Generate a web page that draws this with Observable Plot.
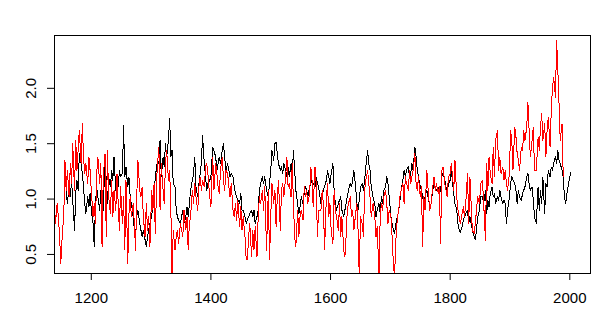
<!DOCTYPE html>
<html>
<head>
<meta charset="utf-8">
<script src="https://cdn.jsdelivr.net/npm/d3@7"></script>
<script src="https://cdn.jsdelivr.net/npm/@observablehq/plot@0.6"></script>
<style>
  html, body { margin: 0; padding: 0; background: #ffffff; }
  #chart { width: 611px; height: 327px; }
</style>
</head>
<body>
<div id="chart"></div>
<script>
// Years (x)
const years = [
1138,1140,1143,1145,1147,1149,1152,1154,1156,1158,1160,1163,1165,1167,1169,1172,1174,1176,1178,1180,1183,1185,1187,1189,1191,1194,1196,1198,1200,1203,1205,1207,1209,1211,1214,1216,1218,1220,
1223,1225,1227,1229,1232,1234,1236,1238,1241,1243,1245,1247,1249,1252,1254,1256,1258,1261,1263,1265,1267,1270,1272,1274,1276,1278,1281,1283,1285,1287,1290,1292,1294,1296,1298,1301,1303,1305,1307,1310,
1313,1315,1317,1320,1322,1324,1326,1329,1331,1333,1335,1337,1340,1342,1344,1346,1349,1351,1353,1355,1358,1360,1362,1364,1366,1369,1371,1373,1375,1378,1380,1382,1384,1386,1389,1391,1393,1395,1398,1400,
1403,1405,1408,1410,1412,1414,1416,1419,1421,1423,1425,1428,1430,1432,1434,1437,1439,1441,1443,1445,1448,1450,1452,1454,1457,1459,1461,1463,1465,1468,1470,1472,1474,1477,1479,1481,1483,1486,1488,1490,
1493,1496,1498,1500,1502,1505,1507,1509,1511,1513,1516,1518,1520,1522,1525,1527,1529,1531,1534,1536,1538,1540,1542,1545,1547,1549,1551,1554,1556,1558,1560,1562,1565,1567,1569,1571,1574,1576,1578,1580,
1584,1586,1588,1590,1593,1595,1597,1599,1601,1604,1606,1608,1610,1613,1615,1617,1619,1622,1624,1626,1628,1630,1633,1635,1637,1639,1642,1644,1646,1648,1650,1653,1655,1657,1659,1662,1664,1666,1668,1671,
1674,1676,1678,1681,1683,1685,1687,1689,1692,1694,1696,1698,1701,1703,1705,1707,1710,1712,1714,1716,1718,1721,1723,1725,1727,1730,1732,1734,1736,1738,1741,1743,1745,1747,1750,1752,1754,1756,1758,1761,
1764,1766,1768,1771,1773,1775,1777,1780,1782,1784,1786,1788,1791,1793,1795,1797,1800,1802,1804,1806,1808,1811,1813,1815,1817,1820,1822,1824,1826,1829,1831,1833,1835,1837,1840,1842,1844,1846,1849,1851,
1854,1856,1859,1861,1863,1865,1867,1870,1872,1874,1876,1879,1881,1883,1885,1888,1890,1892,1894,1896,1899,1901,1903,1905,1908,1910,1912,1914,1916,1919,1921,1923,1925,1928,1930,1932,1934,1937,1939,1941,
1944,1947,1949,1951,1953,1955,1958,1960,1962,1964,1967,1969,1971,1973,1976,1978,1980,1982,1984,1987,1989,1991,1993,1996,1998,2000,2002
];

// Black series
const blackSeries = [
null,null,null,null,null,null,null,null,null,1.08,0.96,1.11,1.02,1.17,0.99,0.72,1.05,1.17,1.08,1.41,1.32,1.23,1.11,0.96,0.87,1.02,0.93,1.05,0.90,0.78,0.57,0.96,1.11,1.02,0.90,1.08,0.99,0.90,
1.38,1.17,0.96,1.20,1.11,1.26,1.17,1.38,1.08,1.20,1.11,1.26,1.20,1.23,1.66,1.20,1.29,1.11,1.20,1.02,0.96,0.84,0.72,0.66,0.84,0.90,0.78,0.72,0.66,0.72,0.63,0.57,0.66,0.72,0.78,0.84,0.96,1.05,1.20,1.32,
1.32,1.53,1.20,1.38,1.29,1.50,1.38,1.53,1.73,1.38,1.44,1.14,1.11,0.90,0.84,0.81,0.78,0.84,0.90,0.78,0.84,0.93,0.84,0.96,1.08,1.17,1.23,1.38,1.11,1.02,1.14,1.23,1.32,1.57,1.32,1.20,1.08,1.14,1.17,1.20,
1.47,1.44,1.38,1.26,1.32,1.38,1.32,1.44,1.50,1.38,1.26,1.32,1.26,1.20,1.23,1.20,1.11,1.05,1.02,0.99,0.96,1.05,0.90,0.90,0.84,0.78,0.81,0.84,0.87,0.90,0.84,0.90,0.78,0.84,0.90,1.08,1.14,1.20,1.14,1.20,
1.08,1.02,1.14,1.26,1.44,1.35,1.50,1.51,1.41,1.32,1.26,1.29,1.23,1.32,1.26,1.20,1.29,1.20,1.32,1.23,1.44,1.26,1.08,0.96,0.87,0.93,1.02,0.96,1.05,1.11,1.08,1.02,1.11,1.14,1.17,1.14,1.11,1.20,1.14,1.11,
0.96,1.02,1.08,1.11,1.17,1.26,1.20,1.14,1.23,1.32,1.08,0.96,0.90,0.96,0.99,1.02,0.90,0.84,0.90,0.96,1.02,1.08,1.14,1.11,1.17,1.26,1.11,0.96,0.90,0.99,1.11,1.14,1.08,1.17,1.29,1.44,1.32,1.26,1.11,1.02,
0.96,0.84,0.90,0.96,0.87,1.02,0.96,1.08,1.11,1.20,1.14,1.02,0.84,0.78,0.72,0.69,0.81,0.84,0.90,0.99,1.08,1.17,1.26,1.20,1.26,1.29,1.20,1.23,1.32,1.26,1.47,1.38,1.26,1.20,1.11,1.08,1.02,0.96,1.02,1.08,
0.99,0.93,0.96,1.08,1.14,1.11,1.08,1.11,1.05,1.08,1.20,1.23,1.17,1.11,1.05,1.14,1.17,1.26,1.14,1.05,0.96,0.90,0.78,0.72,0.70,0.75,0.81,0.84,0.87,0.90,0.78,0.84,0.78,0.72,0.66,0.63,0.72,0.84,0.90,1.02,
1.02,0.96,1.08,0.87,0.99,0.93,1.05,1.11,1.02,1.05,0.96,1.02,0.99,1.08,1.02,0.96,0.99,0.96,0.78,0.90,1.02,1.14,1.20,1.17,1.14,1.08,0.96,1.08,1.02,0.99,1.05,1.08,1.11,1.20,1.23,1.14,1.08,1.11,0.99,0.84,
0.78,1.11,0.90,1.08,0.96,1.20,0.87,1.14,1.11,1.26,1.20,1.29,1.26,1.32,1.38,1.32,1.44,1.35,1.32,1.26,1.20,1.02,0.96,1.08,1.14,1.20,1.24
];

// Red series
const redSeries = [
1.02,0.78,0.96,0.84,0.66,0.42,0.72,0.84,1.35,1.08,1.26,1.02,1.32,1.14,1.50,1.08,1.53,1.26,1.44,1.62,1.32,1.68,1.38,1.23,1.32,1.14,1.38,1.26,1.08,0.84,0.96,0.78,1.23,1.38,1.14,1.32,0.57,1.20,
1.41,0.66,1.44,1.02,0.87,1.17,0.84,1.08,0.90,1.23,0.96,0.72,1.11,0.78,1.02,0.54,1.17,0.42,0.87,1.02,0.84,0.96,0.78,0.54,1.02,1.35,1.08,1.02,1.11,0.84,0.66,0.96,0.72,0.84,0.57,1.08,0.90,1.14,0.69,1.26,
1.47,0.90,1.32,1.08,0.96,1.32,1.44,1.17,1.26,0.93,0.30,0.72,0.54,0.66,0.72,0.60,0.78,0.72,0.66,0.90,0.72,0.84,0.54,0.78,0.84,1.08,0.96,1.14,1.02,0.90,1.11,1.20,1.08,1.17,1.11,1.29,1.32,1.23,1.02,0.93,
1.38,1.08,1.32,1.23,1.11,1.05,1.26,1.38,1.17,1.08,1.26,1.23,1.11,1.02,1.14,0.90,0.84,0.96,0.81,0.99,0.75,0.93,0.72,0.84,0.66,0.45,0.45,0.66,0.78,0.48,0.72,0.54,0.75,0.48,0.84,1.02,0.96,1.08,0.90,1.11,
0.54,1.08,0.45,0.84,1.14,0.96,1.08,0.75,1.02,1.17,0.72,1.08,1.14,1.02,1.20,1.38,1.11,1.14,1.02,1.32,0.96,0.66,0.57,0.90,0.66,0.84,0.90,0.81,1.11,1.02,1.08,0.96,1.05,1.29,1.17,0.93,1.29,1.14,0.66,0.90,
0.90,1.08,0.96,0.54,1.02,1.14,0.84,0.96,0.72,0.60,1.08,0.90,0.84,0.72,0.96,0.66,0.84,0.54,0.48,0.66,0.90,0.96,1.02,0.84,0.90,0.72,0.87,0.96,0.72,0.30,0.84,0.78,0.66,1.08,1.17,1.26,1.14,1.02,0.84,0.96,
0.84,0.66,0.75,0.30,0.84,0.96,0.90,1.02,1.08,0.96,0.78,0.90,0.84,0.66,0.42,0.30,0.72,0.84,0.90,1.02,1.08,1.14,0.96,1.20,1.14,1.08,1.26,1.14,1.20,1.26,1.41,1.14,1.08,1.20,1.02,1.11,0.57,1.02,0.90,1.26,
1.02,0.90,0.96,1.11,1.20,1.08,1.14,1.05,1.11,0.60,1.26,1.29,1.14,1.08,1.02,1.20,1.23,1.32,1.20,1.08,1.35,1.02,0.90,0.84,0.78,0.87,0.93,0.84,0.96,1.23,0.78,1.20,0.96,0.72,0.69,0.78,0.90,1.02,0.96,1.14,
1.17,0.96,0.63,1.32,1.08,1.38,1.23,1.14,1.47,1.20,1.53,1.62,1.26,1.38,1.23,1.29,1.17,1.26,1.14,1.08,1.23,1.62,1.53,1.26,1.65,1.56,1.41,1.35,1.26,1.47,1.44,1.62,1.53,1.65,1.87,1.62,1.38,1.53,1.65,1.26,
1.26,1.56,1.44,1.65,1.77,1.53,1.68,1.38,1.62,1.74,1.47,1.80,2.01,2.10,1.92,2.43,2.16,1.86,1.53,1.68,1.20,null,null,null,null,null,null
];

const xTicks = [1200, 1400, 1600, 1800, 2000];
const yTicks = [0.5, 1.0, 1.5, 2.0];

if (years.length !== blackSeries.length || years.length !== redSeries.length) {
  throw new Error("length mismatch " + years.length + " " + blackSeries.length + " " + redSeries.length);
}

const rows = years.map((yr, i) => ({year: yr, black: blackSeries[i], red: redSeries[i]}));

const chart = Plot.plot({
  width: 611,
  height: 327,
  marginLeft: 54,
  marginRight: 21,
  marginTop: 35,
  marginBottom: 54,
  x: {domain: [1138.5, 2034.6]},
  y: {domain: [0.328, 2.477]},
  style: {fontFamily: "'Liberation Sans', Arial, sans-serif", fontSize: "15px", background: "#ffffff", color: "#000000"},
  marks: [
    Plot.line(rows, {x: "year", y: "black", stroke: "#000000", strokeWidth: 1, clip: true, shapeRendering: "crispEdges"}),
    Plot.line(rows, {x: "year", y: "red", stroke: "#ff0000", strokeWidth: 1, clip: true, shapeRendering: "crispEdges"}),
    Plot.frame({stroke: "#000000", strokeWidth: 1}),
    Plot.axisX({ticks: xTicks, tickFormat: "d", tickSize: 7, tickPadding: 12, label: null, fontSize: 15}),
    Plot.axisY({ticks: yTicks, tickFormat: ".1f", tickSize: 7, tickPadding: 12, tickRotate: -90, label: null, fontSize: 15})
  ]
});

document.getElementById("chart").appendChild(chart);
</script>
</body>
</html>
